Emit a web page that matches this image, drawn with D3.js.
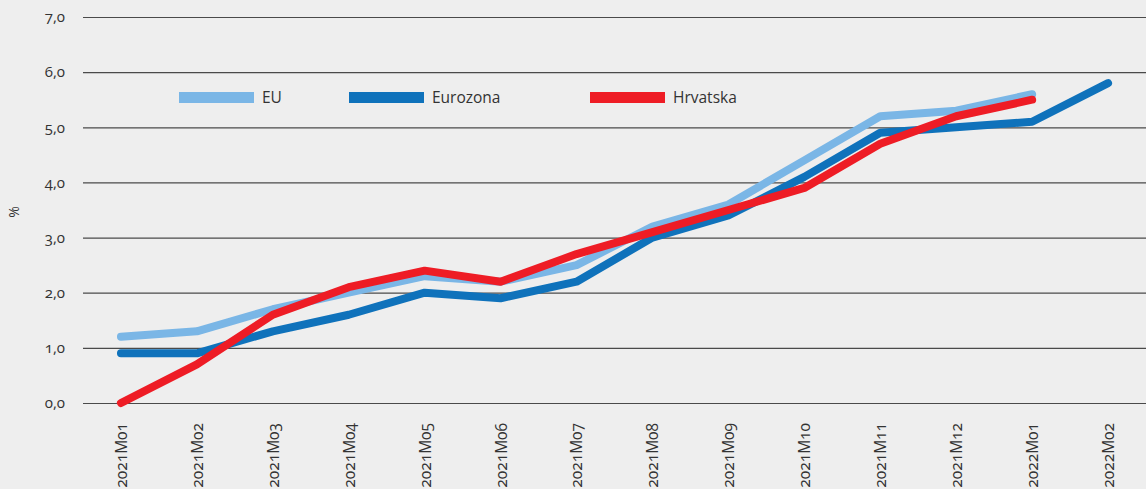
<!DOCTYPE html>
<html><head><meta charset="utf-8">
<script src="https://cdn.jsdelivr.net/npm/d3@7"></script>
<style>
html,body{margin:0;padding:0;background:#eeeeee;}
text{font-family:"Open Sans","Noto Sans",sans-serif;font-variant-numeric:oldstyle-nums;fill:#333;}
</style></head>
<body><svg id="c" width="1146" height="489"></svg>
<script>
const categories = ["2021M01","2021M02","2021M03","2021M04","2021M05","2021M06","2021M07","2021M08","2021M09","2021M10","2021M11","2021M12","2022M01","2022M02"];
const eu = [1.2,1.3,1.7,2.0,2.3,2.2,2.5,3.2,3.6,4.4,5.2,5.3,5.6];
const eurozona = [0.9,0.9,1.3,1.6,2.0,1.9,2.2,3.0,3.4,4.1,4.9,5.0,5.1,5.8];
const hrvatska = [0.0,0.7,1.6,2.1,2.4,2.2,2.7,3.1,3.5,3.9,4.7,5.2,5.5];
const yTicks = [0,1,2,3,4,5,6,7];
const seriesNames = ["EU","Eurozona","Hrvatska"];
const colors = ["#7ab6e6","#0f72bb","#ee1c25"];

const svg = d3.select("#c");
svg.append("rect").attr("width",1146).attr("height",489).attr("fill","#eeeeee");
const x = d3.scalePoint().domain(categories).range([83,1146]).padding(0.5);
const y = d3.scaleLinear().domain([0,7]).range([403,17]);
const fmt = d => d3.format(".1f")(d).replace(".",",");

const yAxis = svg.append("g").attr("transform","translate(83,0)")
  .call(d3.axisLeft(y).tickValues(yTicks).tickSize(-1063).tickFormat(fmt).tickPadding(18));
yAxis.select(".domain").remove();
yAxis.selectAll(".tick line").attr("stroke","#4a4a4a").attr("stroke-width",1.2);
yAxis.selectAll(".tick text").attr("font-size",15).attr("fill","#333");

const xAxis = svg.append("g").attr("transform","translate(0,403)")
  .call(d3.axisBottom(x).tickSize(0).tickPadding(0));
xAxis.select(".domain").remove();
xAxis.selectAll(".tick text").attr("font-size",15.5).attr("fill","#333")
  .attr("transform","translate(0,20) rotate(-90)").attr("text-anchor","end")
  .attr("dy","0.35em").attr("dx",0).attr("x",0).attr("y",0);

svg.append("text").attr("transform","translate(19,212) rotate(-90)")
  .attr("text-anchor","middle").attr("font-size",14).text("%");

const line = d3.line().x((d,i)=>x(categories[i])).y(d=>y(d));
[eu,eurozona,hrvatska].forEach((s,i)=>{
  svg.append("path").datum(s).attr("d",line).attr("fill","none")
    .attr("stroke",colors[i]).attr("stroke-width",8)
    .attr("stroke-linecap","round").attr("stroke-linejoin","round");
});

const legendX = [179,349,590];
seriesNames.forEach((n,i)=>{
  svg.append("rect").attr("x",legendX[i]).attr("y",92).attr("width",75).attr("height",11).attr("fill",colors[i]);
  svg.append("text").attr("x",legendX[i]+83).attr("y",97.5).attr("dy","0.35em").attr("font-size",15.5).text(n);
});
</script></body></html>
